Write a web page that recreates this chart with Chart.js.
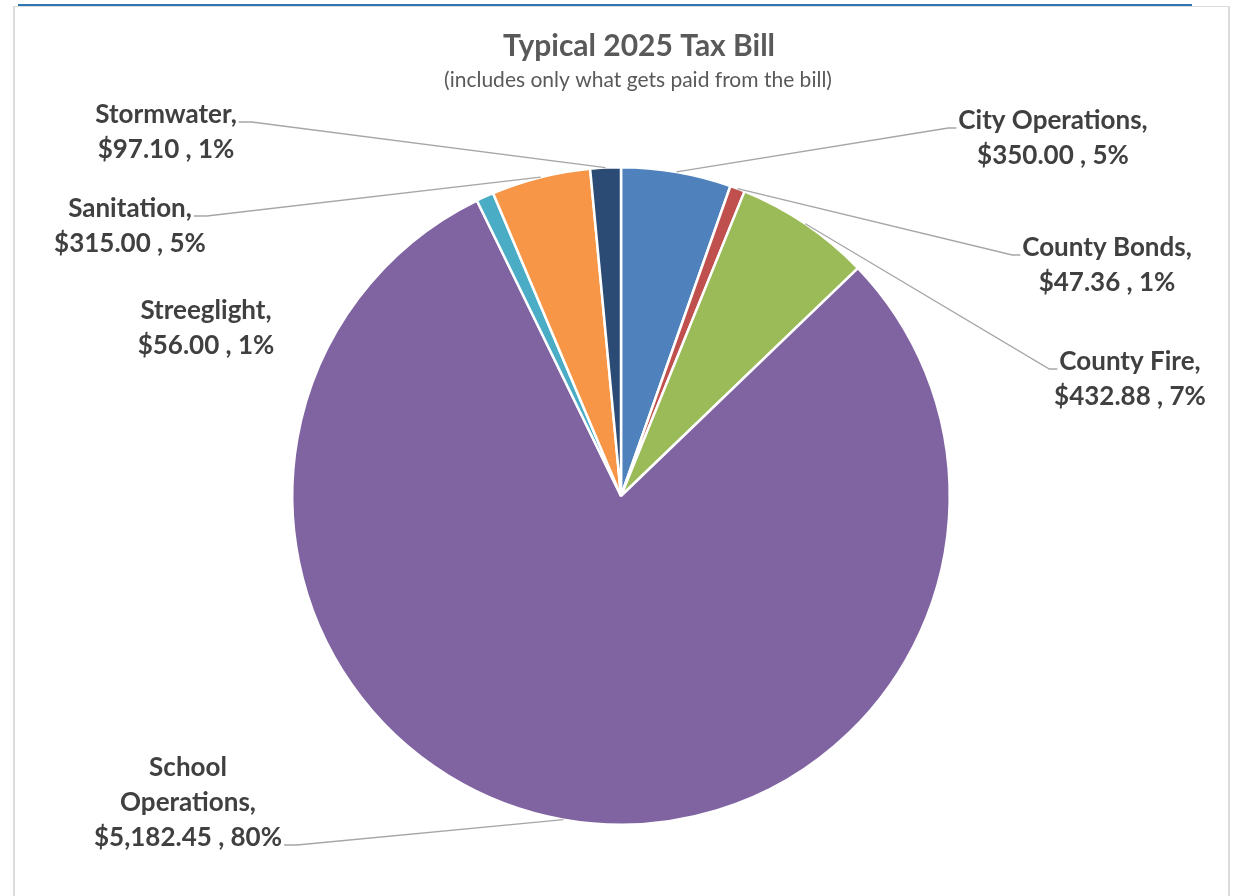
<!DOCTYPE html>
<html>
<head>
<meta charset="utf-8">
<title>Typical 2025 Tax Bill</title>
<script src="https://cdn.jsdelivr.net/npm/chart.js@4"></script>
<style>
  body { margin: 0; background: #fff; }
  #wrap { position: relative; width: 1233px; height: 896px; overflow: hidden; }
  .frame { position: absolute; left: 13px; top: 6px; width: 1213px; height: 900px;
           border-left: 2px solid #dcdcdc; border-top: 1px solid #dcdcdc; border-right: 2px solid #dcdcdc; }
  .topline { position: absolute; left: 18px; top: 4px; width: 1174px; height: 2px; background: #2e75b6; }
  canvas { position: absolute; left: 0; top: 0; }
</style>
</head>
<body>
<div id="wrap">
  <div class="frame"></div>
  <div class="topline"></div>
  <canvas id="taxPie" width="1233" height="896"></canvas>
</div>
<script>
// Dados do gráfico
const categorias = ["City Operations", "County Bonds", "County Fire", "School Operations", "Streeglight", "Sanitation", "Stormwater"];
const valores = [350.00, 47.36, 432.88, 5182.45, 56.00, 315.00, 97.10];
const cores = ["#4f81bd", "#c0504d", "#9bbb59", "#8064a2", "#4bacc6", "#f79646", "#2b4b74"];

const titulo = "Typical 2025 Tax Bill";
const subtitulo = "(includes only what gets paid from the bill)";

const total = valores.reduce((a, b) => a + b, 0);

// Posição dos rótulos (centro do texto), com ou sem conector
const rotulos = [
  { x: 1053, y: 121, leader: true, wrap: false },
  { x: 1107, y: 248, leader: true, wrap: false },
  { x: 1130, y: 362, leader: true, wrap: false },
  { x: 188, y: 768, leader: true, wrap: true },
  { x: 206, y: 311, leader: false, wrap: false },
  { x: 130, y: 209, leader: true, wrap: false },
  { x: 166, y: 115, leader: true, wrap: false },
];

function linhasRotulo(i) {
  const nome = categorias[i];
  const valor = valores[i].toLocaleString("en-US", { minimumFractionDigits: 2, maximumFractionDigits: 2 });
  const pct = Math.round(valores[i] / total * 100);
  const linhas = rotulos[i].wrap ? nome.split(" ") : [nome];
  linhas[linhas.length - 1] += ",";
  linhas.push("$" + valor + " , " + pct + "%");
  return linhas;
}

// Título desenhado à parte (levemente deslocado à direita como no original)
const tituloPlugin = {
  id: "titulo",
  afterDraw(chart) {
    const ctx = chart.ctx;
    ctx.save();
    ctx.textAlign = "center";
    ctx.textBaseline = "middle";
    ctx.fillStyle = "#595959";
    ctx.font = "bold 30px Lato";
    ctx.fillText(titulo, 639, 46);
    ctx.font = "21px Lato";
    ctx.fillText(subtitulo, 638, 80);
    ctx.restore();
  },
};

const rotulosPlugin = {
  id: "rotulos",
  afterDatasetsDraw(chart) {
    const ctx = chart.ctx;
    const arcs = chart.getDatasetMeta(0).data;
    const lh = 35;
    ctx.save();
    ctx.font = "bold 26px Lato";
    ctx.textAlign = "center";
    ctx.textBaseline = "middle";
    arcs.forEach((arc, i) => {
      const r = rotulos[i];
      const linhas = linhasRotulo(i);
      linhas.forEach((t, k) => {
        ctx.fillStyle = "#404040";
        ctx.fillText(t, r.x, r.y + k * lh);
      });
      if (!r.leader) return;
      const p = arc.getProps(["x", "y", "startAngle", "endAngle", "outerRadius"], true);
      const mid = (p.startAngle + p.endAngle) / 2;
      const ax = p.x + Math.cos(mid) * p.outerRadius;
      const ay = p.y + Math.sin(mid) * p.outerRadius;
      const esquerda = r.x < p.x;
      const idx = r.wrap ? linhas.length - 1 : 0;
      const w = ctx.measureText(linhas[idx]).width;
      const ex = esquerda ? r.x + w / 2 + 2 : r.x - w / 2 - 2;
      const ey = r.y + idx * lh + 7;
      const tail = esquerda ? 13 : -8;
      ctx.strokeStyle = "#a6a6a6";
      ctx.lineWidth = 1.3;
      ctx.beginPath();
      ctx.moveTo(ax, ay);
      ctx.lineTo(ex + tail, ey);
      ctx.lineTo(ex, ey);
      ctx.stroke();
    });
    ctx.restore();
  },
};

new Chart(document.getElementById("taxPie"), {
  type: "pie",
  data: {
    labels: categorias,
    datasets: [{
      data: valores,
      backgroundColor: cores,
      borderColor: "#ffffff",
      borderWidth: 2.5,
    }],
  },
  options: {
    responsive: false,
    animation: false,
    layout: { padding: { left: 9, right: 0, top: 166, bottom: 70 } },
    plugins: {
      legend: { display: false },
      tooltip: { enabled: false },
      title: { display: false },
    },
  },
  plugins: [rotulosPlugin, tituloPlugin],
});
</script>
</body>
</html>
